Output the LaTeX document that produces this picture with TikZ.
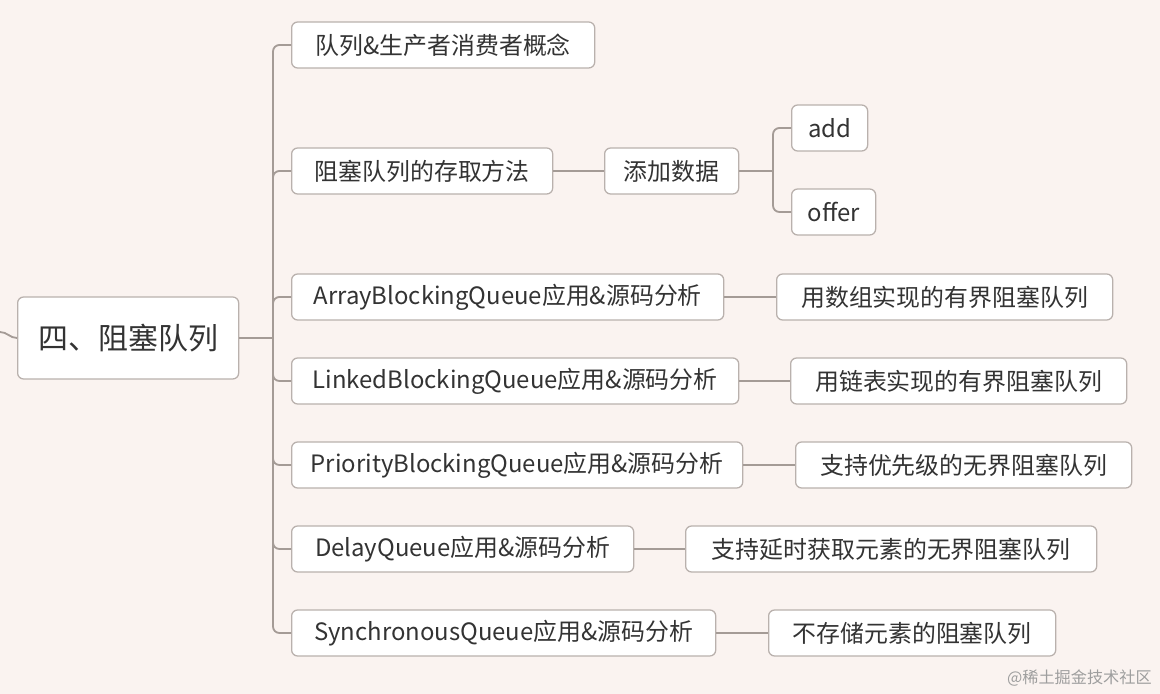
\documentclass[tikz,border=0pt]{standalone}
\usepackage{fontspec}
\setmainfont{Noto Sans CJK SC}
\definecolor{paper}{HTML}{FAF3F0}
\definecolor{edge}{HTML}{B9B1AD}
\definecolor{wire}{HTML}{A49B96}
\definecolor{ink}{HTML}{333333}
\begin{document}
\begin{tikzpicture}[
x=0.025cm, y=-0.025cm,
topic/.style={draw=edge, line width=0.9pt, fill=white, rounded corners=0.15cm, minimum height=1.15cm, inner sep=0pt, anchor=west, align=center, text=ink, font=\fontsize{17}{20}\selectfont},
rootbox/.style={topic, minimum width=5.525cm, minimum height=2.05cm, font=\fontsize{21.3}{25}\selectfont},
link/.style={draw=wire, line width=1.3pt, rounded corners=0.16cm}
]
\useasboundingbox[fill=paper] (0,0) rectangle (1160,694);
% root and its parent stub
\node[rootbox] (root) at (17,338) {四、阻塞队列};
\coordinate (parent) at (0,332);
\coordinate (fork) at (273,338);
% first level
\node[topic, minimum width=7.575cm] (concept) at (291,45) {队列\&生产者消费者概念};
\node[topic, minimum width=6.525cm] (access) at (291,171) {阻塞队列的存取方法};
\node[topic, minimum width=10.8cm] (array) at (291,297) {ArrayBlockingQueue应用\&源码分析};
\node[topic, minimum width=11.175cm] (linked) at (291,381) {LinkedBlockingQueue应用\&源码分析};
\node[topic, minimum width=11.275cm] (priority) at (291,465) {PriorityBlockingQueue应用\&源码分析};
\node[topic, minimum width=8.55cm] (delay) at (291,549) {DelayQueue应用\&源码分析};
\node[topic, minimum width=10.6cm] (sync) at (291,633) {SynchronousQueue应用\&源码分析};
% second level
\node[topic, minimum width=3.35cm] (adddata) at (604,171) {添加数据};
\node[topic, minimum width=1.9cm] (add) at (791,128) {add};
\node[topic, minimum width=2.1cm] (offer) at (791,212) {offer};
\coordinate (split) at (773,171);
\node[topic, minimum width=8.4cm] (arraynote) at (776,297) {用数组实现的有界阻塞队列};
\node[topic, minimum width=8.4cm] (linkednote) at (790,381) {用链表实现的有界阻塞队列};
\node[topic, minimum width=8.4cm] (prioritynote) at (795,465) {支持优先级的无界阻塞队列};
\node[topic, minimum width=10.275cm] (delaynote) at (685,549) {支持延时获取元素的无界阻塞队列};
\node[topic, minimum width=7.175cm] (syncnote) at (768,633) {不存储元素的阻塞队列};
% connectors
\draw[link] (parent) to[out=0, in=180] (root.west);
\draw[link] (root.east) -- (fork);
\foreach \kid in {concept, access, array, linked, priority, delay, sync}
  \draw[link] (fork) |- (\kid.west);
\draw[link] (access) -- (adddata);
\draw[link] (adddata) -- (split);
\draw[link] (split) |- (add.west);
\draw[link] (split) |- (offer.west);
\draw[link] (array) -- (arraynote);
\draw[link] (linked) -- (linkednote);
\draw[link] (priority) -- (prioritynote);
\draw[link] (delay) -- (delaynote);
\draw[link] (sync) -- (syncnote);
% watermark
\node[anchor=east, text=black!38, font=\fontsize{11.5}{13}\selectfont, inner sep=0pt] (mark) at (1152,678) {@稀土掘金技术社区};
\end{tikzpicture}
\end{document}
